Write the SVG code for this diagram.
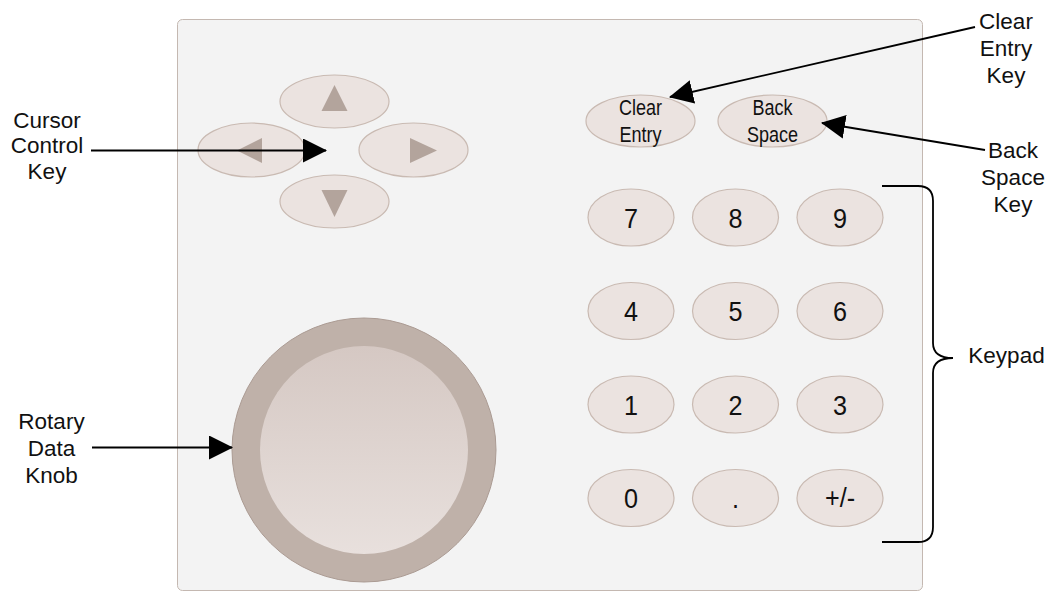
<svg xmlns="http://www.w3.org/2000/svg" width="1049" height="591" viewBox="0 0 1049 591">
<defs>
<style>
.key{fill:#ebe3e0;stroke:#c9bab2;stroke-width:1.2}
.tri{fill:#b3a49c}
.lbl{font-family:"Liberation Sans",Arial,sans-serif;font-size:22.5px;fill:#111;text-anchor:middle}
.kt{font-family:"Liberation Sans",Arial,sans-serif;font-size:22px;fill:#111;text-anchor:middle}
.num{font-family:"Liberation Sans",Arial,sans-serif;font-size:28px;fill:#111;text-anchor:middle}
.conn{stroke:#000;stroke-width:1.8;fill:none}
</style>
<marker id="ah" markerUnits="userSpaceOnUse" markerWidth="24" markerHeight="24" viewBox="0 0 24 24" refX="23" refY="12" orient="auto">
<path d="M0,0 L24,12 L0,24 z" fill="#000"/>
</marker>
<linearGradient id="knobg" x1="0" y1="0" x2="0" y2="1">
<stop offset="0" stop-color="#d5c8c3"/>
<stop offset="1" stop-color="#e8e0dd"/>
</linearGradient>
</defs>
<rect width="1049" height="591" fill="#fff"/>
<g id="panel">
<rect x="177.5" y="19.5" width="745" height="571" rx="5" fill="#f3f3f3" stroke="#c4b8b1" stroke-width="1"/>
</g>
<g id="cursor-keys">
<ellipse class="key" cx="334.5" cy="101.5" rx="54.5" ry="26.5"/>
<polygon class="tri" points="334.5,85 347.5,111 321.5,111"/>
<ellipse class="key" cx="251.5" cy="150" rx="53.5" ry="27"/>
<polygon class="tri" points="237,150.5 262,138 262,163"/>
<ellipse class="key" cx="413.5" cy="150" rx="54.5" ry="27"/>
<polygon class="tri" points="437,150.5 410,138 410,163"/>
<ellipse class="key" cx="334.5" cy="201.5" rx="54.5" ry="26.5"/>
<polygon class="tri" points="334.5,217 347.5,190 321.5,190"/>
</g>
<g id="knob">
<circle cx="364" cy="450" r="132" fill="#bfb1a9" stroke="#ab9b93" stroke-width="1"/>
<circle cx="364" cy="450" r="104" fill="url(#knobg)"/>
</g>
<g id="clear-entry-key">
<ellipse class="key" cx="640.5" cy="121" rx="54.5" ry="26"/>
<g transform="translate(640.5 0) scale(0.82 1)">
<text class="kt" x="0" y="115.5">Clear</text>
<text class="kt" x="0" y="142.5">Entry</text>
</g>
</g>
<g id="back-space-key">
<ellipse class="key" cx="772.5" cy="121" rx="54.5" ry="26"/>
<g transform="translate(772.5 0) scale(0.82 1)">
<text class="kt" x="0" y="115.5">Back</text>
<text class="kt" x="0" y="142.5">Space</text>
</g>
</g>
<g id="keypad">
<g id="key-7"><ellipse class="key" cx="631" cy="217.5" rx="43" ry="28.5"/><text class="num" transform="translate(631 227.5) scale(0.9 1)">7</text></g>
<g id="key-8"><ellipse class="key" cx="735.5" cy="217.5" rx="43" ry="28.5"/><text class="num" transform="translate(735.5 227.5) scale(0.9 1)">8</text></g>
<g id="key-9"><ellipse class="key" cx="840" cy="217.5" rx="43" ry="28.5"/><text class="num" transform="translate(840 227.5) scale(0.9 1)">9</text></g>
<g id="key-4"><ellipse class="key" cx="631" cy="311" rx="43" ry="28.5"/><text class="num" transform="translate(631 321) scale(0.9 1)">4</text></g>
<g id="key-5"><ellipse class="key" cx="735.5" cy="311" rx="43" ry="28.5"/><text class="num" transform="translate(735.5 321) scale(0.9 1)">5</text></g>
<g id="key-6"><ellipse class="key" cx="840" cy="311" rx="43" ry="28.5"/><text class="num" transform="translate(840 321) scale(0.9 1)">6</text></g>
<g id="key-1"><ellipse class="key" cx="631" cy="404.5" rx="43" ry="28.5"/><text class="num" transform="translate(631 414.5) scale(0.9 1)">1</text></g>
<g id="key-2"><ellipse class="key" cx="735.5" cy="404.5" rx="43" ry="28.5"/><text class="num" transform="translate(735.5 414.5) scale(0.9 1)">2</text></g>
<g id="key-3"><ellipse class="key" cx="840" cy="404.5" rx="43" ry="28.5"/><text class="num" transform="translate(840 414.5) scale(0.9 1)">3</text></g>
<g id="key-0"><ellipse class="key" cx="631" cy="498" rx="43" ry="28.5"/><text class="num" transform="translate(631 508) scale(0.9 1)">0</text></g>
<g id="key-dot"><ellipse class="key" cx="735.5" cy="498" rx="43" ry="28.5"/><text class="num" transform="translate(735.5 508) scale(0.9 1)">.</text></g>
<g id="key-pm"><ellipse class="key" cx="840" cy="498" rx="43" ry="28.5"/><text class="num" font-size="25" transform="translate(840 507) scale(0.9 1)">+/-</text></g>
</g>
<g id="labels">
<text class="lbl"><tspan x="47" y="127.5">Cursor</tspan><tspan x="47" y="153">Control</tspan><tspan x="47" y="179">Key</tspan></text>
<text class="lbl"><tspan x="51.5" y="429">Rotary</tspan><tspan x="51.5" y="456">Data</tspan><tspan x="51.5" y="483">Knob</tspan></text>
<text class="lbl"><tspan x="1006" y="28.5">Clear</tspan><tspan x="1006" y="55.5">Entry</tspan><tspan x="1006" y="82.5">Key</tspan></text>
<text class="lbl"><tspan x="1013" y="158">Back</tspan><tspan x="1013" y="185">Space</tspan><tspan x="1013" y="212">Key</tspan></text>
<text class="lbl" x="1006.5" y="362.5">Keypad</text>
</g>
<g id="connectors">
<line class="conn" x1="91" y1="150.5" x2="326" y2="150.5" marker-end="url(#ah)"/>
<line class="conn" x1="92" y1="447.5" x2="232" y2="447.5" marker-end="url(#ah)"/>
<line class="conn" x1="975" y1="27" x2="670" y2="97" marker-end="url(#ah)"/>
<line class="conn" x1="985" y1="150" x2="822" y2="123" marker-end="url(#ah)"/>
<path class="conn" d="M882,186 H918 Q933,186 933,201 V343 Q933,358 953,358 Q933,358 933,373 V527 Q933,542 918,542 H882"/>
</g>
</svg>
